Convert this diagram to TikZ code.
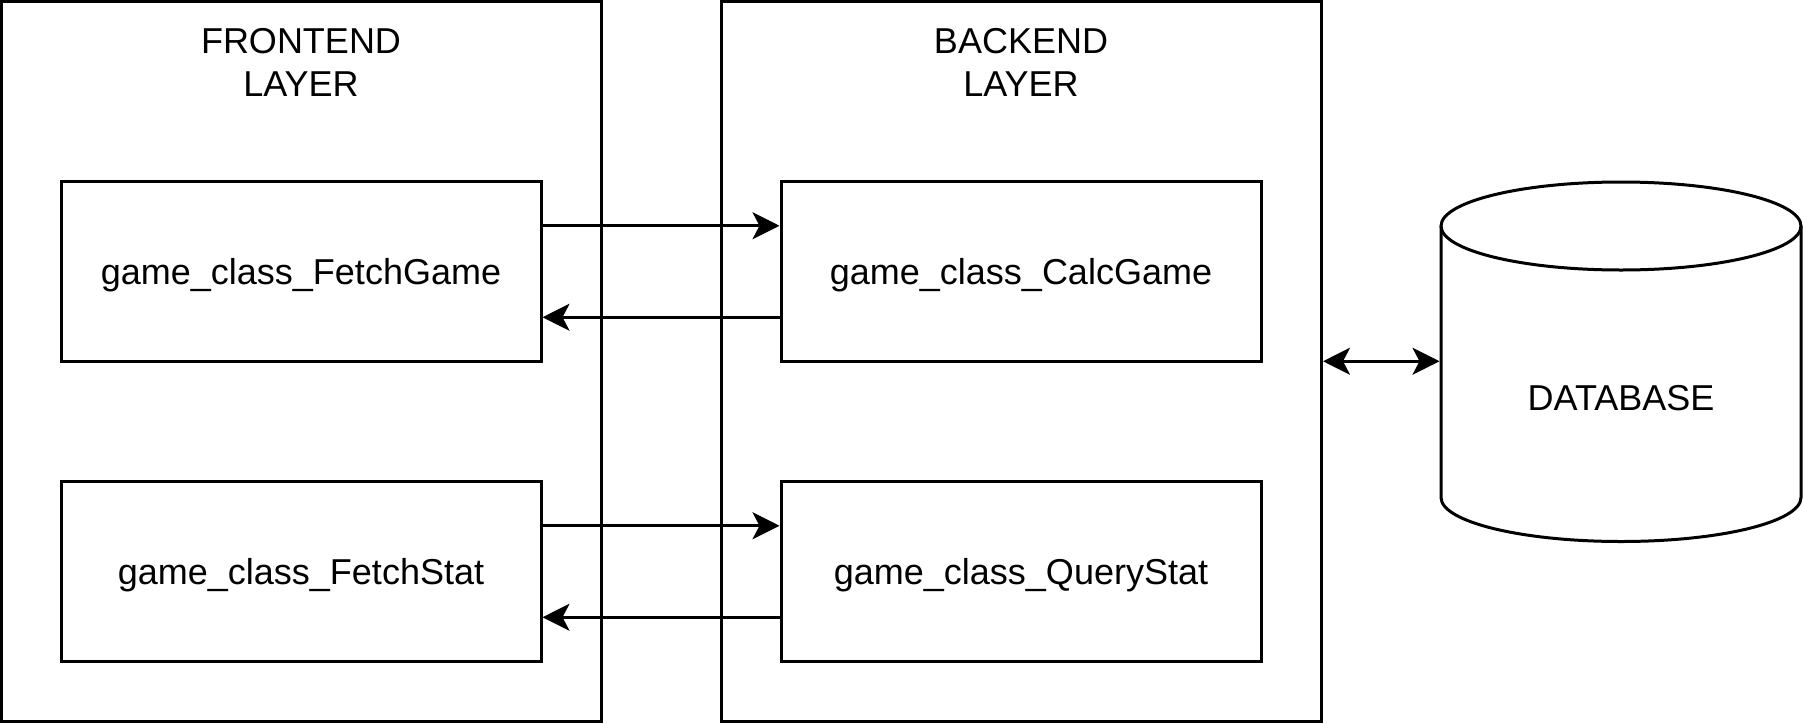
\documentclass[tikz,border=0pt]{standalone}
\usepackage{fontspec}
\setmainfont{Liberation Sans}
\usetikzlibrary{arrows.meta,calc}
\begin{document}
\begin{tikzpicture}[x=0.5pt,y=-0.5pt,
  line width=1.5pt,
  layerbox/.style={draw, line width=1.5pt, minimum width=300pt, minimum height=359.75pt, inner sep=0pt},
  cls/.style={draw, line width=1.5pt, minimum width=240pt, minimum height=90pt, inner sep=0pt,
    font=\fontsize{18}{21.6}\selectfont, text height=12.9pt, text depth=0pt},
  title/.style={font=\fontsize{18}{21.6}\selectfont, align=center, inner sep=0pt},
  tip/.tip={Stealth[length=13.5pt,width=13.5pt,inset=3.5pt]},
  arr/.style={-tip, line width=1.5pt},
]
\useasboundingbox (0,0) rectangle (1803,723);
% layers
\node[layerbox] (front) at (301.5,361.25) {};
\node[layerbox] (back) at (1021.5,361.25) {};
\node[title] (ftitle) at (301,62.5) {FRONTEND\\LAYER};
\node[title] (btitle) at (1021,62.5) {BACKEND\\LAYER};
% classes
\node[cls] (fg) at (301,271.5) {game\_class\_FetchGame};
\node[cls] (fs) at (301,571.5) {game\_class\_FetchStat};
\node[cls] (cg) at (1021,271.5) {game\_class\_CalcGame};
\node[cls] (qs) at (1021,571.5) {game\_class\_QueryStat};
% database
\node[minimum width=180pt, minimum height=180pt, inner sep=0pt] (db) at (1621,361.25) {};
\draw[line width=1.5pt] (1441,226) -- (1441,497.5) arc[start angle=180, end angle=360, x radius=90pt, y radius=22pt] -- (1801,226);
\draw[line width=1.5pt] (1621,226) ellipse [x radius=90pt, y radius=22pt];
\node[font=\fontsize{18}{21.6}\selectfont, text height=12.9pt, text depth=0pt, inner sep=0pt] (dbl) at (1621,398) {DATABASE};
% connectors
\draw[arr] ($(fg.north east)!.25!(fg.south east)$) -- ($(cg.north west)!.25!(cg.south west)$);
\draw[arr] ($(cg.north west)!.75!(cg.south west)$) -- ($(fg.north east)!.75!(fg.south east)$);
\draw[arr] ($(fs.north east)!.25!(fs.south east)$) -- ($(qs.north west)!.25!(qs.south west)$);
\draw[arr] ($(qs.north west)!.75!(qs.south west)$) -- ($(fs.north east)!.75!(fs.south east)$);
\draw[tip-tip, line width=1.5pt] (back.east) -- (db.west);
\end{tikzpicture}
\end{document}
